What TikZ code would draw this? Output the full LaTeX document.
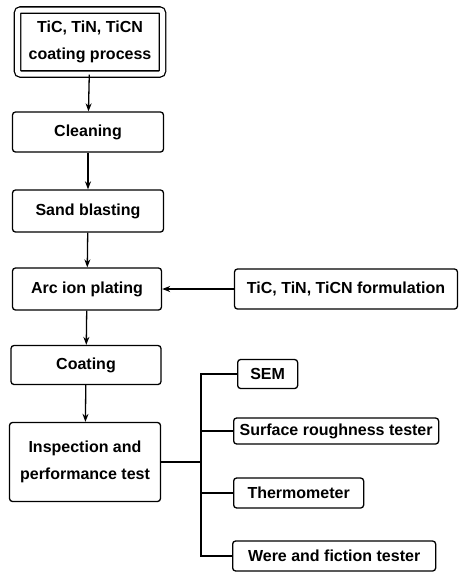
\documentclass[tikz,border=0pt]{standalone}
\usepackage{fontspec}
\setmainfont{Liberation Sans}
\usetikzlibrary{arrows.meta,positioning,calc}

\begin{document}
\begin{tikzpicture}[x=1pt, y=-1pt, >={Stealth[length=8pt,width=6pt]},
    font=\fontsize{16}{27}\selectfont\bfseries, line width=1.3pt,
    procbox/.style={draw, rounded corners=3pt, align=center, inner sep=0pt},
    toolbox/.style={draw, rounded corners=3pt, inner sep=0pt, anchor=west}]
	  \useasboundingbox (0,0) rectangle (459,574);
	  % main process chain
	  \node[procbox, double, double distance=5pt, minimum width=145pt, minimum height=64pt] (start) at (90,42) {TiC, TiN, TiCN\\coating process};
	  \node[procbox, minimum width=151pt, minimum height=40pt] (clean) at (88,132) {Cleaning};
	  \node[procbox, minimum width=151pt, minimum height=42pt] (sand) at (88,211) {Sand blasting};
	  \node[procbox, minimum width=149pt, minimum height=42pt] (arc) at (87,289) {Arc ion plating};
	  \node[procbox, minimum width=150pt, minimum height=39pt] (coat) at (86,365) {Coating};
	  \node[procbox, minimum width=151pt, minimum height=79pt] (insp) at (85,462) {Inspection and\\performance test};
	  \draw[->] (start) -- (clean); \draw[->] (clean) -- (sand); \draw[->] (sand) -- (arc);
	  \draw[->] (arc) -- (coat); \draw[->] (coat) -- (insp);
	  % formulation input
	  \node[procbox, minimum width=223pt, minimum height=40pt] (form) at (346,289) {TiC, TiN, TiCN formulation};
	  \draw[->] (form) -- (arc);
	  % test equipment
	  \coordinate (bus) at (201,374);
	  \node[toolbox, minimum width=60pt, minimum height=29pt] (sem) at (237,374) {SEM};
	  \node[toolbox, minimum width=205pt, minimum height=26pt] (surf) at (233,431) {Surface roughness tester};
	  \node[toolbox, minimum width=130pt, minimum height=30pt] (therm) at (233,493) {Thermometer};
	  \node[toolbox, minimum width=203pt, minimum height=30pt] (wear) at (232,556) {Were and fiction tester};
	  \draw (sem.west) -- (bus) |- (wear.west);
	  \draw (surf.west -| bus) -- (surf.west);
	  \draw (therm.west -| bus) -- (therm.west);
	  \draw (insp.east) -- (insp.east -| bus);
	\end{tikzpicture}
\end{document}
